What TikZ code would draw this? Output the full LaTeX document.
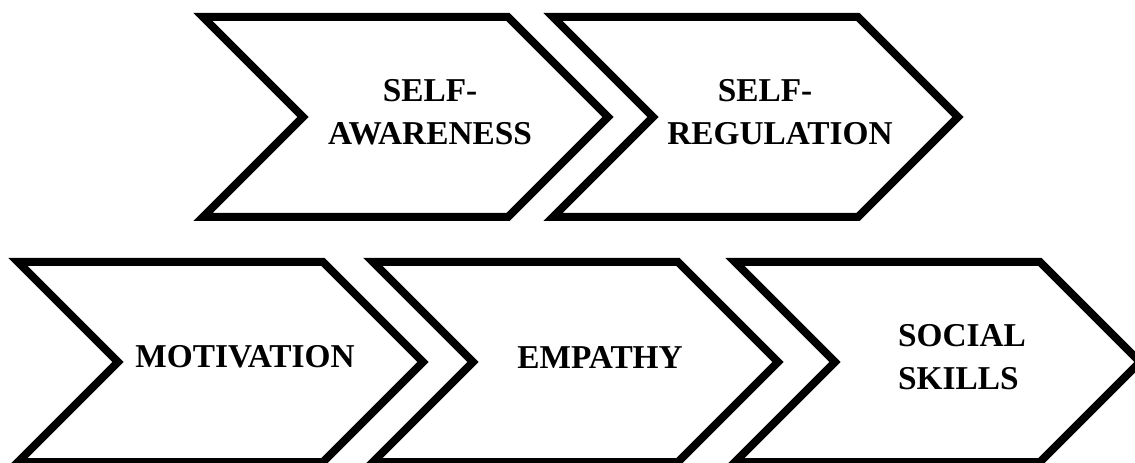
\documentclass[tikz,border=0pt]{standalone}
\usepackage{fontspec}
\setmainfont{Liberation Serif}
\tikzset{
  chevron/.style={draw=black, line width=6pt, fill=white, line join=miter},
  step text/.style={font=\bfseries\fontsize{25}{32.25}\selectfont, inner sep=0pt}
}
\begin{document}
\begin{tikzpicture}[x=0.75pt, y=-0.75pt]
            \useasboundingbox (0,0) rectangle (1135,463);
            \foreach \l/\t/\name/\al/\txt in {203/17/selfaw/center/{SELF-\\AWARENESS},
                553/17/selfreg/center/{SELF-\hspace*{0.9em}\\REGULATION},
                18/262/motiv/center/{MOTIVATION},
                373/262/empathy/center/{EMPATHY},
                735/262/social/left/{SOCIAL\\SKILLS}}
            {
                \path [chevron] (\l,\t) -- ++(305,0) -- ++(100,100) -- ++(-100,100)
                    -- ++(-305,0) -- ++(100,-100) -- cycle;
                \node [step text, align=\al] (\name) at (\l+227,\t+95) {\txt};
            }
            \end{tikzpicture}
\end{document}
